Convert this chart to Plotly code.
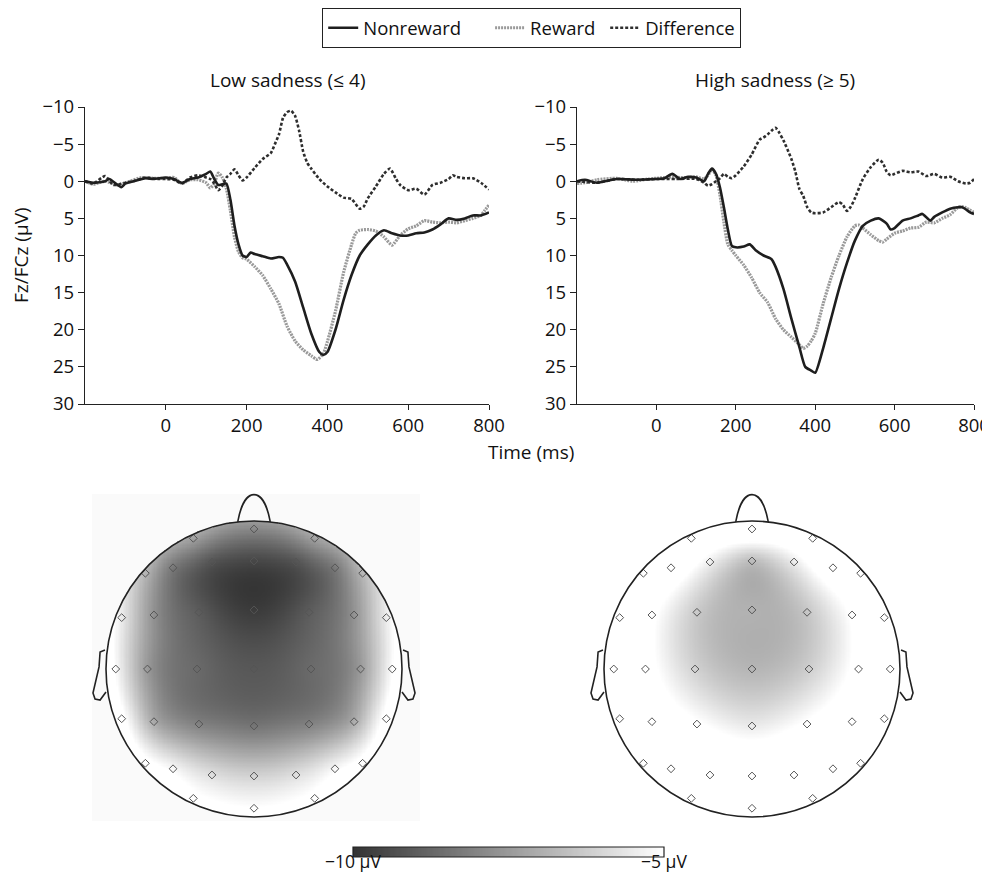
import numpy as np
import plotly.graph_objects as go

# ---------------- ERP data ----------------
# Low sadness
low_nr_t = [-200,-180,-150,-140,-110,-100,-80,-50,-30,0,20,40,60,80,100,110,120,130,140,150,160,170,180,190,200,210,220,240,260,280,290,300,320,340,360,380,390,400,420,440,460,480,500,520,540,560,580,600,620,640,660,680,700,720,740,760,780,800]
low_nr_v = [0,0.2,0,-0.3,0.8,0.3,0,-0.4,-0.3,-0.5,-0.3,0.2,-0.3,-0.5,-1.0,-1.3,-0.3,0.5,0.4,0.3,2.5,6,8.5,10,10.2,9.6,9.8,10.1,10.4,10.2,10.3,11.2,13.5,17,20.5,23,23.4,23,20,16,12.6,10,8.5,7.3,6.6,7.0,7.3,7.3,7.0,6.9,6.5,5.8,5.0,5.2,5.0,4.6,4.6,4.2]
low_rw_t = [-200,-180,-150,-120,-100,-60,-30,0,20,40,60,80,100,110,120,130,140,150,160,170,180,190,200,220,240,260,280,300,320,340,360,375,390,400,420,440,460,470,480,500,520,540,560,580,600,620,640,660,680,700,720,740,760,780,790,800]
low_rw_v = [0,0.4,0,0.5,0.2,-0.5,-0.4,-0.4,-0.5,0.3,-0.2,-0.2,0.2,0.9,0.3,-1.1,-0.5,1.0,4,7.5,9.5,10.3,10.5,11.5,12.7,14.5,16.5,19.5,21.5,22.7,23.5,24,23.2,21.6,17.5,12.3,8.5,7.0,6.6,6.5,6.7,7.5,8.6,7.3,6.4,6.0,5.3,5.5,5.6,5.5,5.6,5.3,5.0,4.6,3.9,3.2]
low_df_t = [-200,-180,-150,-130,-100,-80,-50,-20,0,20,40,60,80,100,110,120,130,140,150,160,170,180,190,200,220,240,260,270,280,290,300,310,320,330,340,350,360,380,400,420,440,460,480,490,500,520,540,555,570,580,600,620,640,660,680,700,710,720,740,760,780,800]
low_df_v = [0,0.3,-0.7,0.5,0.2,0,-0.5,-0.3,-0.3,-0.2,0.3,-0.5,-0.8,-0.5,-0.3,0.3,1.2,0.6,-0.5,-1.0,-1.6,-0.8,-0.1,-0.5,-1.8,-3.0,-3.8,-5,-6.3,-8.5,-9.3,-9.5,-8.8,-6.8,-4.0,-2.5,-1.7,-0.3,0.7,1.5,2.2,2.4,3.7,3.4,2.3,0.7,-1.0,-1.7,-0.3,0.5,1.2,1.0,1.8,0.5,0.2,-0.3,-0.8,-0.6,-0.4,-0.4,0.2,1.1]

# High sadness
high_nr_t = [-200,-180,-150,-100,-50,0,20,40,60,80,100,120,130,140,150,160,170,180,190,200,220,235,250,270,290,300,320,340,360,375,390,400,420,440,460,480,500,520,540,560,580,590,600,620,640,660,670,690,700,720,740,760,770,780,790,800]
high_nr_v = [0,-0.2,0.2,-0.3,-0.2,-0.3,-0.4,-1.0,-0.3,-0.6,-0.5,0,-1.0,-1.7,-1.0,0.8,3.5,6.5,8.7,8.9,8.8,8.5,9.3,10.0,10.5,11.5,14.5,18.5,22.3,25,25.5,25.8,22.5,18.5,14.5,11,8,6,5.3,5.0,5.7,6.5,6.3,5.3,5.0,4.6,4.4,5.3,4.8,4.2,3.7,3.5,3.5,3.8,4.2,4.4]
high_rw_t = [-200,-180,-150,-100,-60,-20,0,20,40,60,80,100,120,130,140,150,160,170,180,190,200,220,240,260,280,300,320,340,360,370,380,390,400,420,440,460,480,500,510,520,540,560,570,580,600,620,640,660,680,700,720,740,760,770,780,800]
high_rw_v = [0.3,0.2,-0.2,-0.4,0,-0.3,-0.4,-0.5,-0.6,-0.5,-0.5,-0.6,-0.3,-0.8,-1.6,-0.8,1.8,5.5,8.5,9.3,10.0,11.3,13,15,16.3,18.5,20,21,22,22.5,22.2,21.5,20.5,16.5,13,10,7.5,6,5.9,6.3,7.2,8.0,8.2,7.8,7.0,6.7,6.3,6.2,5.5,5.6,5.0,4.5,3.5,3.4,3.6,4.2]
high_df_t = [-200,-150,-100,-50,0,50,100,120,130,140,150,160,170,180,190,200,220,240,260,270,280,290,300,310,320,330,340,350,360,370,380,390,400,420,440,460,470,480,490,500,520,540,560,570,580,590,600,620,640,660,680,700,720,740,760,780,790,800]
high_df_v = [0,0.2,-0.3,-0.2,-0.3,-0.3,-0.3,0.2,0.6,0.4,0,-0.4,-1.0,-0.6,-0.4,-0.8,-2.0,-3.6,-5.6,-5.9,-6.3,-6.8,-7.2,-6.5,-5.5,-4.3,-3.0,-1.3,1.0,2.0,3.5,4.2,4.3,4.2,3.5,2.8,3.2,4.0,3.4,2.3,-0.3,-1.9,-2.9,-2.5,-1.3,-0.8,-1.0,-1.4,-1.2,-1.3,-0.7,-1.0,-0.5,-0.6,0.0,0.3,0.2,-0.3]

x_ticks = [0, 200, 400, 600, 800]
y_ticks = [-10, -5, 0, 5, 10, 15, 20, 25, 30]
y_ticktext = ["\u221210", "\u22125", "0", "5", "10", "15", "20", "25", "30"]

# ---------------- Topographic data (electrode layout + amplitudes, µV) ----------------
elec_x = [0.0, -0.41, 0.41,
          -0.734, -0.547, -0.284, 0.0, 0.284, 0.547, 0.734,
          -0.894, -0.676, -0.372, 0.0, 0.372, 0.676, 0.894,
          -0.934, -0.72, -0.385, 0.0, 0.385, 0.72, 0.934,
          -0.894, -0.676, -0.372, 0.0, 0.372, 0.676, 0.894,
          -0.734, -0.547, -0.284, 0.0, 0.284, 0.547, 0.734,
          -0.41, 0.41, 0.0]
elec_y = [0.946, 0.883, 0.883,
          0.647, 0.684, 0.723, 0.73, 0.723, 0.684, 0.647,
          0.347, 0.365, 0.383, 0.399, 0.383, 0.365, 0.347,
          0.0, 0.0, 0.0, 0.0, 0.0, 0.0, 0.0,
          -0.336, -0.356, -0.372, -0.385, -0.372, -0.356, -0.336,
          -0.637, -0.674, -0.716, -0.723, -0.716, -0.674, -0.637,
          -0.874, -0.874, -0.941]
low_topo = [-7.9, -7.3, -7.3,
            -6.8, -8.3, -9.2, -9.5, -9.2, -8.3, -6.8,
            -5.5, -7.7, -9.0, -9.8, -9.0, -7.7, -5.5,
            -5.1, -7.5, -8.65, -9.1, -8.65, -7.5, -5.1,
            -4.7, -7.1, -8.1, -8.4, -8.1, -7.1, -4.7,
            -4.7, -5.2, -5.8, -6.1, -5.8, -5.2, -4.7,
            -4.8, -4.8, -5.0]
high_topo = [-3.8, -3.8, -3.8,
             -3.8, -4.2, -5.4, -6.6, -5.5, -4.2, -3.8,
             -3.6, -4.8, -6.3, -6.9, -6.4, -4.9, -3.6,
             -3.6, -4.6, -6.1, -6.8, -6.2, -4.7, -3.6,
             -3.6, -4.2, -4.9, -5.5, -4.9, -4.2, -3.6,
             -3.6, -3.6, -3.8, -4.0, -3.8, -3.6, -3.6,
             -3.6, -3.6, -3.6]
cb_min, cb_max = -10, -5
cb_text = ["\u221210 \u03bcV", "\u22125 \u03bcV"]
legend_names = ["Nonreward", "Reward", "Difference"]

FONT = "'Open Sans', Lato, sans-serif"
FS = 18.5
FT = 19
NB = "\u00a0"
# the page body adds an 8 px margin; the figure is sized so the page needs no scrollbars
OFF = 8
W, H = 990 - OFF, 882 - 2 * OFF


def px(x):
    return (x - OFF) / W


def py(y):
    return 1 - (y - OFF) / H


def tps_grid(xe, ye, ve, g):
    xe = np.asarray(xe); ye = np.asarray(ye); ve = np.asarray(ve)
    n = len(xe)

    def phi(r):
        with np.errstate(divide="ignore", invalid="ignore"):
            out = r * r * np.log(r)
        return np.where(r > 0, out, 0.0)

    d = np.hypot(xe[:, None] - xe[None, :], ye[:, None] - ye[None, :])
    A = np.zeros((n + 3, n + 3))
    A[:n, :n] = phi(d)
    P = np.column_stack([np.ones(n), xe, ye])
    A[:n, n:] = P
    A[n:, :n] = P.T
    b = np.concatenate([ve, np.zeros(3)])
    sol = np.linalg.solve(A, b)
    w, a = sol[:n], sol[n:]
    GX, GY = np.meshgrid(g, g)
    dg = np.hypot(GX[..., None] - xe, GY[..., None] - ye)
    Z = phi(dg) @ w + a[0] + a[1] * GX + a[2] * GY
    Z[np.hypot(GX, GY) > 1.0] = np.nan
    return Z


fig = go.Figure()

NR = dict(color="#1e1e1e", width=2.6, shape="spline", smoothing=0.6)
RW = dict(color="#9a9a9a", width=3.2, dash="2px,1px", shape="spline", smoothing=0.6)
DF = dict(color="#2e2e2e", width=2.6, dash="3px,2px", shape="spline", smoothing=0.6)

for i, (nt, nv, rt, rv, dt, dv) in enumerate([
        (low_nr_t, low_nr_v, low_rw_t, low_rw_v, low_df_t, low_df_v),
        (high_nr_t, high_nr_v, high_rw_t, high_rw_v, high_df_t, high_df_v)]):
    xa = "x" if i == 0 else "x2"
    ya = "y" if i == 0 else "y2"
    fig.add_trace(go.Scatter(x=rt, y=rv, mode="lines", line=RW, name=legend_names[1],
                             xaxis=xa, yaxis=ya, showlegend=False))
    fig.add_trace(go.Scatter(x=dt, y=dv, mode="lines", line=DF, name=legend_names[2],
                             xaxis=xa, yaxis=ya, showlegend=False))
    fig.add_trace(go.Scatter(x=nt, y=nv, mode="lines", line=NR, name=legend_names[0],
                             xaxis=xa, yaxis=ya, showlegend=False))

# legend-only traces in the order of the reference (padded to the reference spacing)
for name, ln, rank, pad in [(legend_names[0], NR, 1, 5), (legend_names[1], RW, 2, 1),
                            (legend_names[2], DF, 3, 0)]:
    fig.add_trace(go.Scatter(x=[None], y=[None], mode="lines", line=ln, name=name + NB * pad,
                             xaxis="x", yaxis="y", showlegend=True, legendrank=rank))

# ---------------- topomaps ----------------
g = np.linspace(-1.2, 1.2, 281)
colorscale = [[0, "#333333"], [1, "#ffffff"]]
for i, vals in enumerate([low_topo, high_topo]):
    xa = "x3" if i == 0 else "x4"
    ya = "y3" if i == 0 else "y4"
    Z = tps_grid(elec_x, elec_y, vals, g)
    fig.add_trace(go.Heatmap(x=g, y=g, z=Z, zmin=cb_min, zmax=cb_max, colorscale=colorscale,
                             xaxis=xa, yaxis=ya, hoverinfo="skip", showscale=False))
    fig.add_trace(go.Scatter(x=elec_x, y=elec_y, mode="markers", xaxis=xa, yaxis=ya,
                             marker=dict(symbol="diamond-open", size=6, color="#555",
                                         line=dict(width=1, color="#555")),
                             showlegend=False, hoverinfo="skip"))

# colour scale bar (drawn as its own small heatmap)
cb_x = np.linspace(cb_min, cb_max, 256)
fig.add_trace(go.Heatmap(x=cb_x, y=[0], z=[list(cb_x)], zmin=cb_min,
                         zmax=cb_max, colorscale=colorscale, showscale=False,
                         xaxis="x5", yaxis="y5", hoverinfo="skip"))

shapes = []
# very light background behind the left topomap
shapes.append(dict(type="rect", xref="paper", yref="paper", x0=px(92), x1=px(420),
                   y0=py(821), y1=py(494), fillcolor="#fafafa", line=dict(width=0),
                   layer="below"))
shapes.append(dict(type="rect", xref="x5 domain", yref="y5 domain", x0=0, x1=1, y0=0, y1=1,
                   line=dict(color="#222", width=1.2)))
for xa, ya in [("x3", "y3"), ("x4", "y4")]:
    hl = dict(color="#222", width=1.6)
    shapes.append(dict(type="circle", xref=xa, yref=ya, x0=-1, x1=1, y0=-1, y1=1, line=hl))
    shapes.append(dict(type="path", xref=xa, yref=ya, line=hl,
                       path="M -0.11,0.994 C -0.085,1.13 -0.04,1.178 0,1.178 "
                            "C 0.04,1.178 0.085,1.13 0.11,0.994"))
    for s in (-1, 1):
        pts = [(1.007, 0.128), (1.04, 0.115), (1.047, 0.014), (1.088, -0.162),
               (1.074, -0.203), (1.04, -0.21), (1.0, -0.155)]
        path = "M " + " L ".join(f"{s * a:.3f},{b:.3f}" for a, b in pts)
        shapes.append(dict(type="path", xref=xa, yref=ya, line=hl, path=path))

tickfont = dict(family=FONT, size=FS, color="#111")
xcommon = dict(range=[-200, 800], tickvals=x_ticks, ticks="outside", ticklen=5,
               tickcolor="#222", showline=True, linecolor="#222", linewidth=1.2,
               showgrid=False, zeroline=False, tickfont=tickfont, fixedrange=True,
               automargin=False)
ycommon = dict(range=[30, -10], tickvals=y_ticks, ticktext=y_ticktext, ticks="outside",
               ticklen=6, tickcolor="#222", showline=True, linecolor="#222", linewidth=1.2,
               showgrid=False, zeroline=False, tickfont=tickfont, fixedrange=True,
               automargin=False)
hidden = dict(visible=False, range=[-1.2, 1.2], showgrid=False, zeroline=False,
              automargin=False, fixedrange=True)

ytop = [py(404), py(107)]
ann_font = dict(family=FONT, size=FT, color="#111")


def ann(text, x, y, xref="paper", font=ann_font, **kw):
    return dict(text=text, x=x, y=y, xref=xref, yref="paper", showarrow=False,
                xanchor="center", yanchor="middle", font=font, **kw)


cb_font = dict(family=FONT, size=17.5, color="#111")
fig.update_layout(
    template="none",
    width=W, height=H,
    margin=dict(l=0, r=0, t=0, b=0, pad=0, autoexpand=False),
    paper_bgcolor="white", plot_bgcolor="rgba(0,0,0,0)",
    font=dict(family=FONT, size=FS, color="#111"),
    xaxis=dict(domain=[px(85), px(489)], anchor="y", **xcommon),
    yaxis=dict(domain=ytop, anchor="x", **ycommon),
    xaxis2=dict(domain=[px(577), px(974)], anchor="y2", **xcommon),
    yaxis2=dict(domain=ytop, anchor="x2", **ycommon),
    xaxis3=dict(domain=[px(254 - 177.6), px(254 + 177.6)], anchor="y3", **hidden),
    yaxis3=dict(domain=[py(669 + 177.6), py(669 - 177.6)], anchor="x3", **hidden),
    xaxis4=dict(domain=[px(752 - 177.6), px(752 + 177.6)], anchor="y4", **hidden),
    yaxis4=dict(domain=[py(669 + 177.6), py(669 - 177.6)], anchor="x4", **hidden),
    xaxis5=dict(domain=[px(353), px(664)], anchor="y5", visible=False, automargin=False,
                range=[cb_min, cb_max], fixedrange=True),
    yaxis5=dict(domain=[py(857), py(847)], anchor="x5", visible=False, automargin=False,
                range=[-0.5, 0.5], fixedrange=True),
    shapes=shapes,
    showlegend=True,
    legend=dict(orientation="h", x=px(322), xanchor="left", y=py(8), yanchor="top",
                bordercolor="#222", borderwidth=1.2, bgcolor="white",
                font=dict(family=FONT, size=FS, color="#111"),
                itemclick=False, itemdoubleclick=False, tracegroupgap=0),
    annotations=[
        ann("Low sadness (\u2264 4)", px(287), py(80)),
        ann("High sadness (\u2265 5)", px(775), py(80)),
        ann("Fz/FCz (\u03bcV)", px(21), py(255), textangle=-90),
        ann("Time (ms)", px(531), py(452)),
        ann(cb_text[0], cb_min, py(861), xref="x5", font=cb_font),
        ann(cb_text[1], cb_max, py(861), xref="x5", font=cb_font),
    ],
)

fig.write_html("out.html")
